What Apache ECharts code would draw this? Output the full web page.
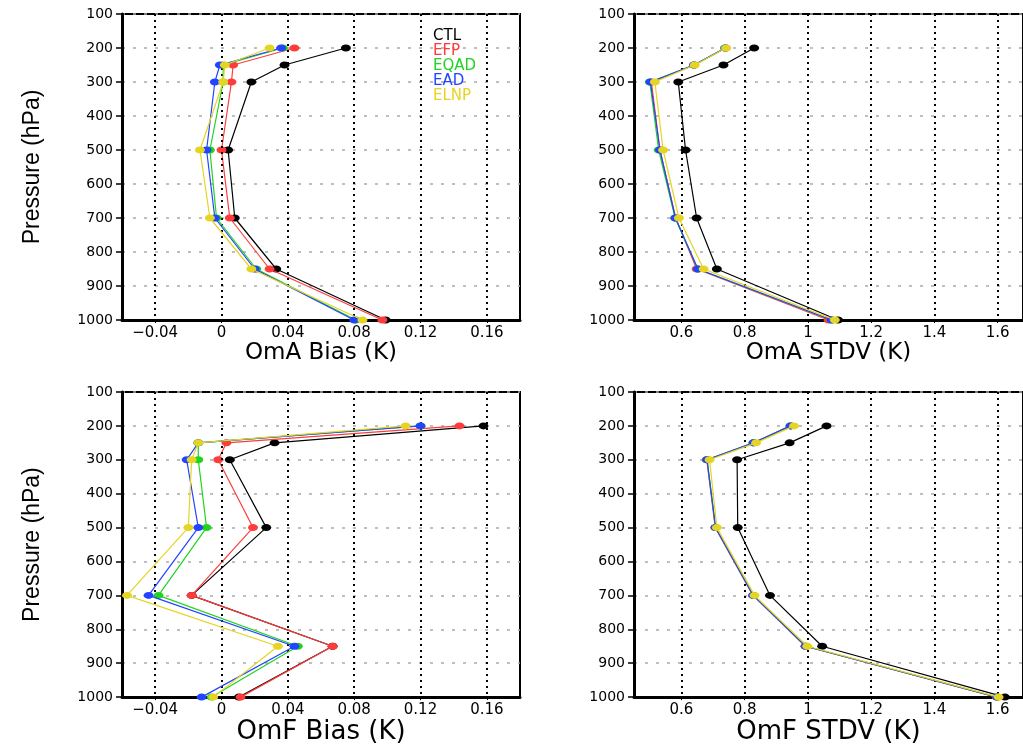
<!DOCTYPE html>
<html>
<head>
<meta charset="utf-8">
<script src="https://cdn.jsdelivr.net/npm/echarts@6/dist/echarts.min.js"></script>
<style>
  html, body { margin: 0; padding: 0; background: #fff; }
  #chart { width: 1023px; height: 746px; }
</style>
</head>
<body>
<div id="chart"></div>
<script>
// pressure levels (hPa) and experiment names
const levels = [200, 250, 300, 500, 700, 850, 1000]
const experiments = ['CTL', 'EFP', 'EQAD', 'EAD', 'ELNP']
const expColors = ['#000000', '#ff3b3b', '#1fd41f', '#2244ff', '#e6d422']

// tick labels
const pressureTicks = [100, 200, 300, 400, 500, 600, 700, 800, 900, 1000]
const biasTicks = [-0.04, 0, 0.04, 0.08, 0.12, 0.16]
const stdvTicks = [0.6, 0.8, 1.0, 1.2, 1.4, 1.6]

// OmA bias (K)
const omaBiasCTL = [0.075, 0.038, 0.018, 0.004, 0.008, 0.033, 0.099]
const omaBiasEFP = [0.044, 0.007, 0.006, 0.0, 0.005, 0.029, 0.097]
const omaBiasEQAD = [0.037, 0.001, 0.001, -0.007, -0.003, 0.021, 0.081]
const omaBiasEAD = [0.036, -0.001, -0.004, -0.009, -0.004, 0.020, 0.080]
const omaBiasELNP = [0.029, 0.002, 0.001, -0.013, -0.007, 0.018, 0.085]

// OmA STDV (K)
const omaStdvCTL = [0.830, 0.733, 0.590, 0.613, 0.648, 0.712, 1.095]
const omaStdvEFP = [0.740, 0.640, 0.505, 0.532, 0.582, 0.648, 1.065]
const omaStdvEQAD = [0.738, 0.640, 0.500, 0.528, 0.580, 0.652, 1.075]
const omaStdvEAD = [0.739, 0.640, 0.502, 0.532, 0.581, 0.652, 1.075]
const omaStdvELNP = [0.741, 0.642, 0.516, 0.542, 0.592, 0.670, 1.085]

// OmF bias (K)
const omfBiasCTL = [0.158, 0.032, 0.005, 0.027, -0.018, 0.067, 0.0105]
const omfBiasEFP = [0.1435, 0.003, -0.002, 0.019, -0.018, 0.067, 0.0115]
const omfBiasEQAD = [0.120, -0.014, -0.014, -0.009, -0.038, 0.046, -0.006]
const omfBiasEAD = [0.120, -0.014, -0.021, -0.014, -0.044, 0.044, -0.012]
const omfBiasELNP = [0.111, -0.014, -0.018, -0.020, -0.057, 0.034, -0.005]

// OmF STDV (K)
const omfStdvCTL = [1.059, 0.942, 0.776, 0.778, 0.880, 1.045, 1.623]
const omfStdvEFP = [0.945, 0.828, 0.680, 0.707, 0.826, 0.992, 1.597]
const omfStdvEQAD = [0.945, 0.828, 0.681, 0.708, 0.827, 0.993, 1.598]
const omfStdvEAD = [0.945, 0.828, 0.681, 0.708, 0.827, 0.993, 1.598]
const omfStdvELNP = [0.956, 0.836, 0.689, 0.712, 0.831, 0.998, 1.603]

const panels = [
  { grid: { left: 122, top: 14, width: 398, height: 306 }, min: -0.06, max: 0.18, ticks: biasTicks,
    name: 'OmA Bias (K)', yName: 'Pressure (hPa)',
    values: [omaBiasCTL, omaBiasEFP, omaBiasEQAD, omaBiasEAD, omaBiasELNP] },
  { grid: { left: 634, top: 14, width: 391, height: 306 }, min: 0.45, max: 1.68, ticks: stdvTicks,
    name: 'OmA STDV (K)', yName: '',
    values: [omaStdvCTL, omaStdvEFP, omaStdvEQAD, omaStdvEAD, omaStdvELNP] },
  { grid: { left: 122, top: 392, width: 398, height: 306 }, min: -0.06, max: 0.18, ticks: biasTicks,
    name: 'OmF Bias (K)', yName: 'Pressure (hPa)',
    values: [omfBiasCTL, omfBiasEFP, omfBiasEQAD, omfBiasEAD, omfBiasELNP] },
  { grid: { left: 634, top: 392, width: 391, height: 306 }, min: 0.45, max: 1.68, ticks: stdvTicks,
    name: 'OmF STDV (K)', yName: '',
    values: [omfStdvCTL, omfStdvEFP, omfStdvEQAD, omfStdvEAD, omfStdvELNP] }
]

const tickFont = "'DejaVu Sans', sans-serif"

// 刻度标签格式
const fmtTick = (v) => {
  if (Math.abs(v) < 1e-9) return '0'
  return String(+v.toFixed(2)).replace('-', '\u2212')
}

const grids = []
const xAxes = []
const yAxes = []
const series = []

panels.forEach((p, i) => {
  grids.push({ ...p.grid, show: true, borderColor: '#000', borderWidth: 2 })

  xAxes.push({
    gridIndex: i,
    type: 'value',
    min: p.min,
    max: p.max,
    name: p.name,
    nameLocation: 'middle',
    nameGap: i < 2 ? 21 : 17,
    nameTextStyle: { fontFamily: tickFont, fontSize: i < 2 ? 23 : 26, color: '#000' },
    axisLine: { onZero: false, lineStyle: { color: '#000', width: 3 } },
    axisTick: { show: true, customValues: p.ticks, length: 3, lineStyle: { color: '#000', width: 1 } },
    axisLabel: { customValues: p.ticks, formatter: fmtTick, margin: 6, color: '#000', fontFamily: tickFont, fontSize: 15 },
    splitLine: { show: false }
  })

  yAxes.push({
    gridIndex: i,
    type: 'value',
    inverse: true,
    min: 100,
    max: 1000,
    interval: 100,
    name: p.yName,
    nameLocation: 'middle',
    nameRotate: 90,
    nameGap: 78,
    nameTextStyle: { fontFamily: "'Liberation Sans Narrow', 'Liberation Sans', sans-serif", fontSize: 23, color: '#000' },
    axisLine: { onZero: false, lineStyle: { color: '#000', width: 3 } },
    axisTick: { length: 6, lineStyle: { color: '#000', width: 1.5 } },
    axisLabel: { margin: 9, color: '#000', fontFamily: tickFont, fontSize: 14,
      formatter: (v) => (pressureTicks.includes(v) ? String(v) : '') },
    splitLine: { show: true, lineStyle: { color: '#aaaaaa', width: 1.5, type: [3, 8] } }
  })

  experiments.forEach((exp, k) => {
    const s = {
      name: exp,
      type: 'line',
      xAxisIndex: i,
      yAxisIndex: i,
      data: levels.map((lev, j) => [p.values[k][j], lev]),
      symbol: 'circle',
      symbolSize: [10, 7],
      color: expColors[k],
      lineStyle: { color: expColors[k], width: 1.2 },
      itemStyle: { color: expColors[k] },
      z: 3 + k
    }
    if (k === 0) {
      // 竖直点线
      s.markLine = {
        silent: true,
        symbol: ['none', 'none'],
        label: { show: false },
        lineStyle: { color: '#000', type: [2, 4], width: 2 },
        data: p.ticks.map((t) => ({ xAxis: t }))
      }
    }
    series.push(s)
  })
})

const chart = echarts.init(document.getElementById('chart'))
chart.setOption({
  animation: false,
  backgroundColor: '#fff',
  legend: {
    orient: 'vertical',
    left: 423,
    top: 24,
    icon: 'none',
    itemWidth: 0,
    itemHeight: 10,
    itemGap: 0,
    textStyle: { fontFamily: tickFont, fontSize: 15 },
    data: experiments.map((e, k) => ({ name: e, textStyle: { color: expColors[k] } }))
  },
  grid: grids,
  xAxis: xAxes,
  yAxis: yAxes,
  series
})
</script>
</body>
</html>
